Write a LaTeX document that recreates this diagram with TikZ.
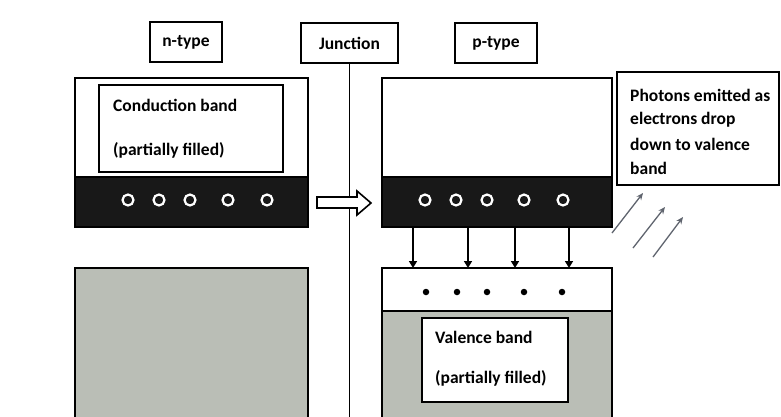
\documentclass[tikz,border=0pt]{standalone}
\usepackage{fontspec}
\setmainfont{Carlito}
\usetikzlibrary{arrows.meta}
\definecolor{bandgray}{RGB}{186,190,182}
\definecolor{bandblack}{RGB}{24,24,24}
\definecolor{photongray}{RGB}{95,100,110}
\begin{document}
\begin{tikzpicture}[x=1pt,y=-1pt,
  font=\bfseries\fontsize{17.5}{21}\selectfont,
  lbl/.style={draw, line width=1.6pt, inner sep=0pt},
  bandbox/.style={draw, line width=1.6pt, inner sep=0pt},
  txt/.style={anchor=west, inner sep=0pt},
  ring/.style={circle, fill=bandblack, draw=white, line width=2.2pt, minimum size=11pt, inner sep=0pt},
  dot/.style={circle, fill=black, minimum size=6.5pt, inner sep=0pt},
  drop/.style={line width=1.6pt, -{Triangle[length=7pt,width=8pt]}},
  photon/.style={photongray, line width=1.3pt, -{Stealth[length=7pt,width=6pt]}}]
\useasboundingbox (0,0) rectangle (781,416);

% top labels
\node[lbl, minimum width=72pt, minimum height=40pt] (ntype) at (186,42) {n-type};
\node[lbl, minimum width=97pt, minimum height=40pt] (junction) at (349.5,43) {Junction};
\node[lbl, minimum width=82pt, minimum height=40pt] (ptype) at (496,43) {p-type};

% junction line
\coordinate (jend) at (349.5,420);
\draw[line width=1.6pt] (junction.south) -- (jend);

% n-type conduction
\node[bandbox, minimum width=233pt, minimum height=149pt] (ncb) at (191.5,152.5) {};
\node[bandbox, fill=bandblack, minimum width=233pt, minimum height=50pt] (nband) at (191.5,202) {};
\node[lbl, minimum width=184pt, minimum height=87pt] (ncbtext) at (191,128.5) {};
\node[txt] (nc1) at (113,105) {Conduction band};
\node[txt] (nc2) at (113,150) {(partially filled)};
\foreach \x [count=\i] in {128,159,190,228,267} \node[ring] (nr\i) at (\x,200) {};

% n-type valence
\node[bandbox, fill=bandgray, minimum width=233pt, minimum height=152pt] (nvb) at (191.5,344) {};

% hollow arrow
\draw[line width=1.6pt, fill=white] (317,197) -- (357,197) -- (357,191) -- (371,203) -- (357,215) -- (357,208) -- (317,208) -- cycle;

% p-type conduction
\node[bandbox, minimum width=230pt, minimum height=149pt] (pcb) at (497,152.5) {};
\node[bandbox, fill=bandblack, minimum width=230pt, minimum height=50pt] (pband) at (497,202) {};
\foreach \x [count=\i] in {425,456,487,524,563} \node[ring] (pr\i) at (\x,200) {};

% p-type valence
\node[bandbox, fill=bandgray, minimum width=230pt, minimum height=152pt] (pvb) at (497,344) {};
\node[bandbox, fill=white, minimum width=230pt, minimum height=43pt] (pstrip) at (497,289.5) {};
\foreach \x [count=\i] in {426,457,487,524,562} \node[dot] (pd\i) at (\x,292) {};
\node[lbl, fill=white, minimum width=146pt, minimum height=84pt] (pvtext) at (495,360) {};
\node[txt] (pv1) at (435,337) {Valence band};
\node[txt] (pv2) at (435,378) {(partially filled)};

% drop arrows
\foreach \x [count=\i] in {413,468,515,569} {
  \coordinate (da\i) at (\x,227);
  \coordinate (db\i) at (\x,268);
  \draw[drop] (da\i) -- (db\i);
}

% photons box
\node[lbl, minimum width=162pt, minimum height=113pt] (phbox) at (698,128.5) {};
\node[txt] (ph1) at (630,95) {Photons emitted as};
\node[txt] (ph2) at (630,120) {electrons drop};
\node[txt] (ph3) at (630,144) {down to valence};
\node[txt] (ph4) at (630,168) {band};

% photon arrows
\coordinate (pa1) at (612,233); \coordinate (pb1) at (643,193);
\coordinate (pa2) at (633,248); \coordinate (pb2) at (665,207);
\coordinate (pa3) at (653,257); \coordinate (pb3) at (683,217);
\draw[photon] (pa1) -- (pb1);
\draw[photon] (pa2) -- (pb2);
\draw[photon] (pa3) -- (pb3);
\end{tikzpicture}
\end{document}
